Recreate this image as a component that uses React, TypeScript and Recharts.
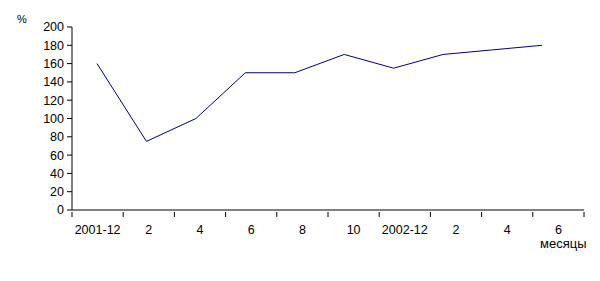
import React from 'react';
import { LineChart, Line, XAxis, YAxis } from 'recharts';

const months = ['2001-12', '2', '4', '6', '8', '10', '2002-12', '2', '4', '6'];
const percent = [160, 75, 100, 150, 150, 170, 155, 170, 175, 180];
const yTicks = [0, 20, 40, 60, 80, 100, 120, 140, 160, 180, 200];
const boundaryTicks = [0, 1, 2, 3, 4, 5, 6, 7, 8, 9, 10];

const data = months.map((m, idx) => ({ idx, month: m, value: percent[idx] }));

const FONT = '"Liberation Sans", Arial, sans-serif';

const MonthTick = (props: any) => {
  const { x, y, index } = props;
  const step = 512 / 10;
  return (
    <g>
      <line x1={x} y1={y - 5} x2={x} y2={y} stroke="#000" />
      {index < months.length && (
        <text
          x={x + step / 2}
          y={y + 17}
          textAnchor="middle"
          fontSize={12.5}
          fontFamily={FONT}
          fill="#000"
        >
          {months[index]}
        </text>
      )}
    </g>
  );
};

export default function App() {
  return (
    <div style={{ position: 'absolute', left: 0, top: 0, width: 600, height: 281, background: '#fff' }}>
      <LineChart
        width={600}
        height={281}
        data={data}
        margin={{ top: 27, right: 16, left: 0, bottom: 41 }}
      >
        <XAxis
          xAxisId="cat"
          type="number"
          dataKey="idx"
          domain={[0, 10]}
          ticks={boundaryTicks}
          allowDataOverflow
          interval={0}
          tickLine={false}
          tickSize={5}
          axisLine={{ stroke: '#000' }}
          tick={<MonthTick />}
          height={30}
        />
        <XAxis
          xAxisId="line"
          type="number"
          dataKey="idx"
          domain={[-0.506, 9.85]}
          allowDataOverflow
          hide
        />
        <YAxis
          domain={[0, 200]}
          ticks={yTicks}
          interval={0}
          width={72}
          tickSize={5}
          tickMargin={3}
          axisLine={{ stroke: '#000' }}
          tickLine={{ stroke: '#000' }}
          tick={{ fill: '#000', fontSize: 12.5, fontFamily: FONT }}
        />
        <Line
          xAxisId="line"
          type="linear"
          dataKey="value"
          stroke="#000080"
          strokeWidth={1}
          dot={false}
          activeDot={false}
          isAnimationActive={false}
        />
      </LineChart>
      <div style={{ position: 'absolute', left: 17, top: 13, fontSize: 11, fontFamily: FONT }}>%</div>
      <div style={{ position: 'absolute', left: 540, top: 236, fontSize: 13, fontFamily: FONT }}>месяцы</div>
    </div>
  );
}
